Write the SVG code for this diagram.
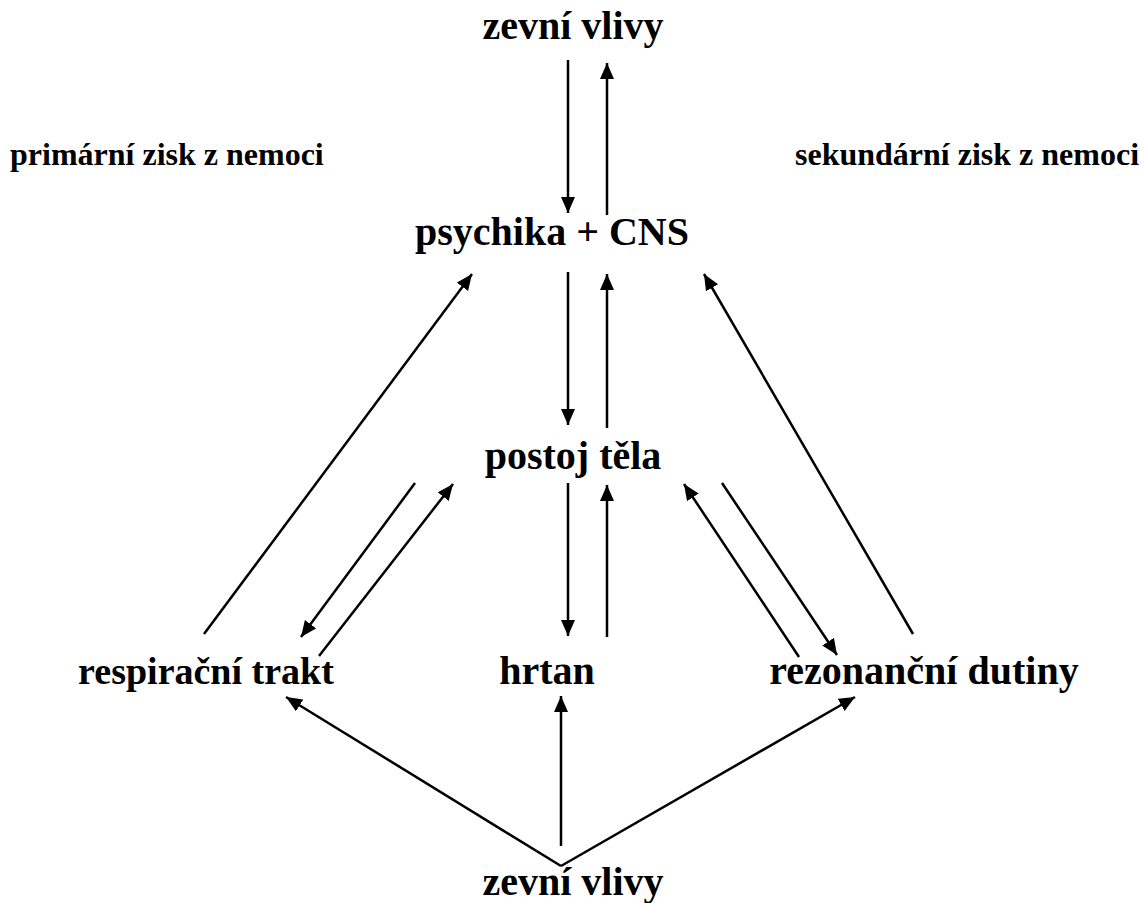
<svg xmlns="http://www.w3.org/2000/svg" width="1144" height="903" viewBox="0 0 1144 903">
<style>
.t{font-family:"Liberation Serif","Times New Roman",serif;font-weight:bold;fill:#000;font-size:40px;text-anchor:middle}
.s{font-size:32px;text-anchor:start}
.c line{stroke:#000;stroke-width:2.5;marker-end:url(#ah)}
</style>
<defs>
<marker id="ah" markerUnits="userSpaceOnUse" markerWidth="18" markerHeight="16" refX="16" refY="7" orient="auto">
<path d="M0,0 L16,7 L0,14 Z" fill="#000"/>
</marker>
</defs>
<rect width="1144" height="903" fill="#fff"/>
<g id="n-top"><text class="t" x="573" y="39">zevní vlivy</text></g>
<g id="n-primar"><text class="t s" x="10" y="165">primární zisk z nemoci</text></g>
<g id="n-sekundar"><text class="t s" x="795" y="165">sekundární zisk z nemoci</text></g>
<g id="n-psychika"><text class="t" x="552" y="245">psychika + CNS</text></g>
<g id="n-postoj"><text class="t" x="573" y="469">postoj těla</text></g>
<g id="n-resp"><text class="t" x="206" y="684" style="font-size:38px">respirační trakt</text></g>
<g id="n-hrtan"><text class="t" x="547" y="684">hrtan</text></g>
<g id="n-rezon"><text class="t" x="924" y="684">rezonanční dutiny</text></g>
<g id="n-bottom"><text class="t" x="573" y="895">zevní vlivy</text></g>
<g id="connectors" class="c">
<line x1="568" y1="60" x2="568" y2="213"/>
<line x1="607" y1="215" x2="607" y2="63"/>
<line x1="568" y1="272" x2="568" y2="425"/>
<line x1="607" y1="428" x2="607" y2="274"/>
<line x1="568" y1="483" x2="568" y2="636"/>
<line x1="607" y1="637" x2="607" y2="485"/>
<line x1="204" y1="634" x2="472" y2="274"/>
<line x1="913" y1="634" x2="704" y2="274"/>
<line x1="415" y1="483" x2="301" y2="637"/>
<line x1="319" y1="656" x2="453" y2="484"/>
<line x1="799" y1="657" x2="684" y2="484"/>
<line x1="722" y1="483" x2="837" y2="655"/>
<line x1="561" y1="866" x2="286" y2="697"/>
<line x1="561" y1="846" x2="561" y2="696"/>
<line x1="561" y1="866" x2="855" y2="697"/>
</g>
</svg>
